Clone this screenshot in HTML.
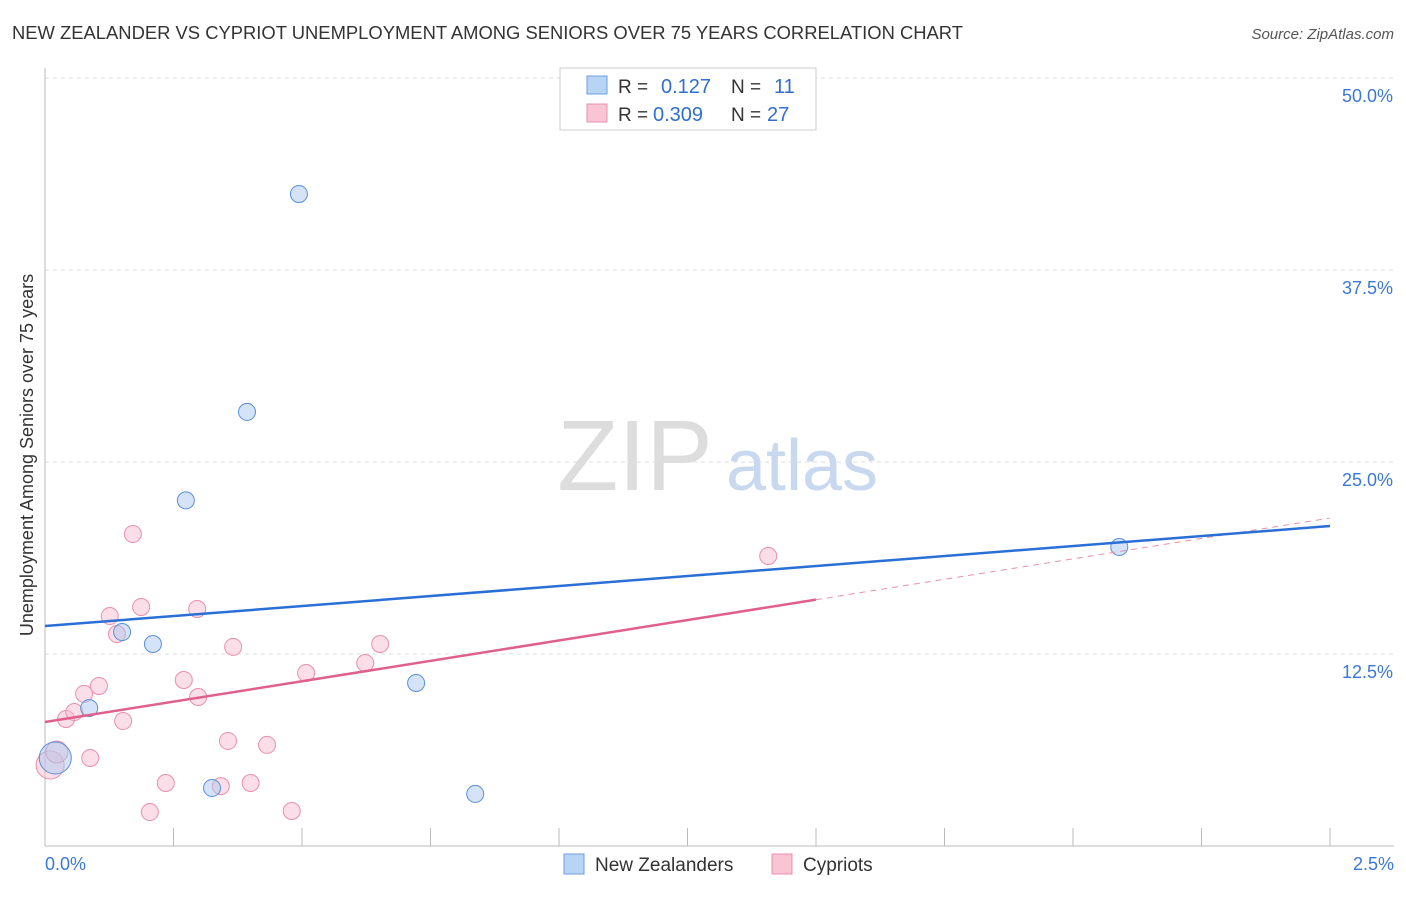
<!DOCTYPE html>
<html><head><meta charset="utf-8"><style>
body{margin:0;background:#fff;font-family:"Liberation Sans",sans-serif;}
svg text{font-family:"Liberation Sans",sans-serif;}
</style></head><body>
<svg id="chart" width="1406" height="892">
<text x="12" y="39" font-size="18" fill="#333" textLength="951" lengthAdjust="spacingAndGlyphs">NEW ZEALANDER VS CYPRIOT UNEMPLOYMENT AMONG SENIORS OVER 75 YEARS CORRELATION CHART</text>
<text x="1394" y="39" font-size="15" fill="#555" font-style="italic" text-anchor="end">Source: ZipAtlas.com</text>
<g id="grid"></g>
<text x="635" y="490" font-size="100" fill="#ddd" font-family="Liberation Serif" text-anchor="middle">ZIP</text>
<text x="802" y="490" font-size="72" fill="#c8d8ee" text-anchor="middle">atlas</text>
<g id="marks"></g>
<text transform="translate(33,455) rotate(-90)" font-size="18" fill="#333" text-anchor="middle">Unemployment Among Seniors over 75 years</text>
<g>
<rect x="560" y="68" width="256" height="62" fill="#fff" stroke="#ccc"/>
<rect x="587" y="76" width="20" height="18" fill="#b8d4f5" stroke="#6a9fe0"/>
<rect x="587" y="104" width="20" height="18" fill="#f9c4d4" stroke="#e890ac"/>
<text x="618" y="93" font-size="19" fill="#333">R =</text>
<text x="661" y="93" font-size="20" fill="#2f6fd0">0.127</text>
<text x="731" y="93" font-size="19" fill="#333">N =</text>
<text x="774" y="93" font-size="20" fill="#2f6fd0">11</text>
<text x="618" y="121" font-size="19" fill="#333">R =</text>
<text x="653" y="121" font-size="20" fill="#2f6fd0">0.309</text>
<text x="731" y="121" font-size="19" fill="#333">N =</text>
<text x="767" y="121" font-size="20" fill="#2f6fd0">27</text>
</g>
<g>
<rect x="564" y="854" width="20" height="20" fill="#b8d4f5" stroke="#6a9fe0"/>
<text x="595" y="871" font-size="19" fill="#333">New Zealanders</text>
<rect x="772" y="854" width="20" height="20" fill="#f9c4d4" stroke="#e890ac"/>
<text x="803" y="871" font-size="19" fill="#333">Cypriots</text>
</g>
</svg>
<script>
const xTicks=[0,0.25,0.5,0.75,1,1.25,1.5,1.75,2,2.25,2.5];
const yTicks=[12.5,25,37.5,50];
const yTickLabels=["12.5%","25.0%","37.5%","50.0%"];
const nzX=[0.02,0.086,0.15,0.21,0.274,0.325,0.393,0.494,0.722,0.837,2.09];
const nzY=[5.73,8.98,13.93,13.15,22.5,3.78,28.26,42.45,10.61,3.39,19.47];
const cyX=[0.01,0.023,0.041,0.057,0.076,0.088,0.105,0.126,0.14,0.152,0.171,0.187,0.204,0.235,0.27,0.296,0.298,0.342,0.356,0.366,0.4,0.432,0.48,0.508,0.623,0.652,1.407];
const cyY=[5.27,6.12,8.27,8.72,9.9,5.73,10.42,14.97,13.8,8.14,20.31,15.56,2.21,4.1,10.81,15.43,9.7,3.9,6.84,12.96,4.1,6.58,2.28,11.26,11.91,13.15,18.88];
const nzTrend=[14.32,20.83];
const cyTrend=[8.07,21.35];
const cyTrendSolidEnd=1.5;
const X=v=>45+v/2.5*1285, Y=v=>846-v/12.5*192;
const NS="http://www.w3.org/2000/svg";
function mk(tag,attrs,parent){const e=document.createElementNS(NS,tag);for(const k in attrs)e.setAttribute(k,attrs[k]);parent.appendChild(e);return e;}
const grid=document.getElementById('grid'),marks=document.getElementById('marks');
yTicks.forEach((t,i)=>{
 const l=mk('line',{x1:45,x2:1394,y1:Y(t),y2:Y(t),stroke:'#ddd','stroke-dasharray':'4,4'},grid);
 
 
 const tx=mk('text',{x:1393,y:Y(t)+24,'font-size':18,fill:'#3b78d8','text-anchor':'end'},grid);
 tx.textContent=yTickLabels[i];
 
 
});
const ax=mk('line',{x1:45,x2:1394,y1:846,y2:846,stroke:'#bbb'},grid);


const ay=mk('line',{x1:45,x2:45,y1:68,y2:846,stroke:'#bbb'},grid);


xTicks.forEach(t=>{
 const l=mk('line',{x1:X(t),x2:X(t),y1:828,y2:846,stroke:'#bbb'},grid);
 
 
});
[[0,'0.0%','start',45],[2.5,'2.5%','end',1394]].forEach(a=>{
 const tx=mk('text',{x:a[3],y:870,'font-size':18,fill:'#3b78d8','text-anchor':a[2]},grid);
 tx.textContent=a[1];
 
 
});
cyX.forEach((x,i)=>{
 const c=mk('circle',{cx:X(x),cy:Y(cyY[i]),r:i<2?(i==0?14:11):8.5,fill:'rgba(249,190,210,0.5)',stroke:'#e890ac','stroke-width':1},marks);
 
 
});
nzX.forEach((x,i)=>{
 const c=mk('circle',{cx:X(x),cy:Y(nzY[i]),r:i==0?16:8.5,fill:'rgba(170,200,240,0.5)',stroke:'#5a8fd8','stroke-width':1},marks);
 
 
});
const cyAt=x=>cyTrend[0]+(cyTrend[1]-cyTrend[0])*x/2.5;
const p1=mk('line',{x1:X(0),y1:Y(cyTrend[0]),x2:X(cyTrendSolidEnd),y2:Y(cyAt(cyTrendSolidEnd)),stroke:'#e0608c','stroke-width':2.5},marks);


const p2=mk('line',{x1:X(cyTrendSolidEnd),y1:Y(cyAt(cyTrendSolidEnd)),x2:X(2.5),y2:Y(cyTrend[1]),stroke:'#e890ac','stroke-width':1,'stroke-dasharray':'6,5'},marks);


const b=mk('line',{x1:X(0),y1:Y(nzTrend[0]),x2:X(2.5),y2:Y(nzTrend[1]),stroke:'#2a6fd6','stroke-width':2.5},marks);


</script>
</body></html>
